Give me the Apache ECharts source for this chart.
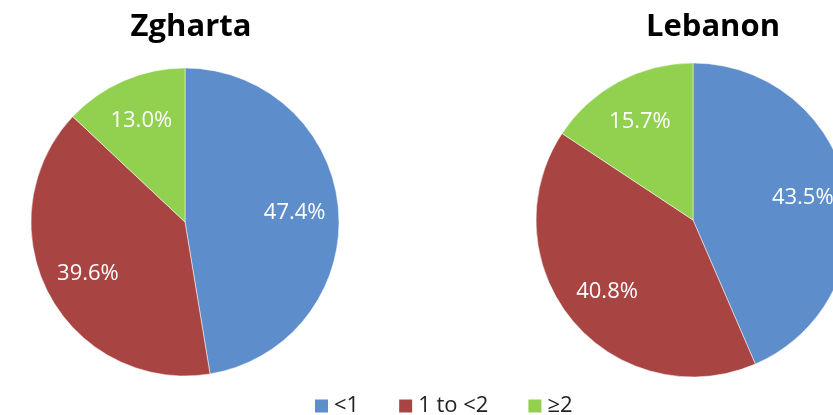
<!DOCTYPE html>
<html>
<head>
<meta charset="utf-8">
<script src="https://cdn.jsdelivr.net/npm/echarts@6/dist/echarts.min.js"></script>
<style>
  html, body { margin: 0; padding: 0; background: #fff; }
  #chart { width: 833px; height: 415px; }
</style>
</head>
<body>
<div id="chart"></div>
<script>
// categories and values
var categories = ['<1', '1 to <2', '≥2']
var zghartaValues = [47.4, 39.6, 13.0]
var lebanonValues = [43.5, 40.8, 15.7]
var colors = ['#5D8DCA', '#A84543', '#92D050']

function toData(values) {
  return categories.map(function(name, i) {
    return { name: name, value: values[i] }
  })
}

// pie with the sectors, labels drawn by an overlay ring so they sit further out
function pieSeries(values, center, radius) {
  return [
    {
      type: 'pie',
      center: center,
      radius: radius,
      startAngle: 90,
      clockwise: true,
      silent: true,
      label: { show: false },
      labelLine: { show: false },
      itemStyle: { borderColor: '#fff', borderWidth: 0.5 },
      data: toData(values)
    },
    {
      type: 'pie',
      center: center,
      radius: [radius * 0.39, radius],
      startAngle: 90,
      clockwise: true,
      silent: true,
      legendHoverLink: false,
      itemStyle: { color: 'transparent' },
      label: {
        show: true,
        position: 'inside',
        color: '#fff',
        fontSize: 22,
        fontFamily: 'Open Sans',
        formatter: function(p) {
          return p.value.toFixed(1) + '%'
        }
      },
      labelLine: { show: false },
      data: toData(values)
    }
  ]
}

var chart = echarts.init(document.getElementById('chart'), null, { renderer: 'canvas' })
chart.setOption({
  animation: false,
  color: colors,
  title: [
    {
      text: 'Zgharta',
      left: 186,
      top: 7,
      textAlign: 'center',
      textStyle: { fontFamily: 'Open Sans', fontWeight: 'bold', fontSize: 31, color: '#000' }
    },
    {
      text: 'Lebanon',
      left: 708,
      top: 7,
      textAlign: 'center',
      textStyle: { fontFamily: 'Open Sans', fontWeight: 'bold', fontSize: 31, color: '#000' }
    }
  ],
  legend: {
    data: categories,
    left: 308,
    top: 390,
    icon: 'rect',
    itemWidth: 15,
    itemHeight: 15,
    itemGap: 38,
    textStyle: { fontFamily: 'Open Sans', fontSize: 22, color: '#222' }
  },
  series: pieSeries(zghartaValues, [185, 222], 154)
    .concat(pieSeries(lebanonValues, [693, 220], 157))
})
</script>
</body>
</html>
